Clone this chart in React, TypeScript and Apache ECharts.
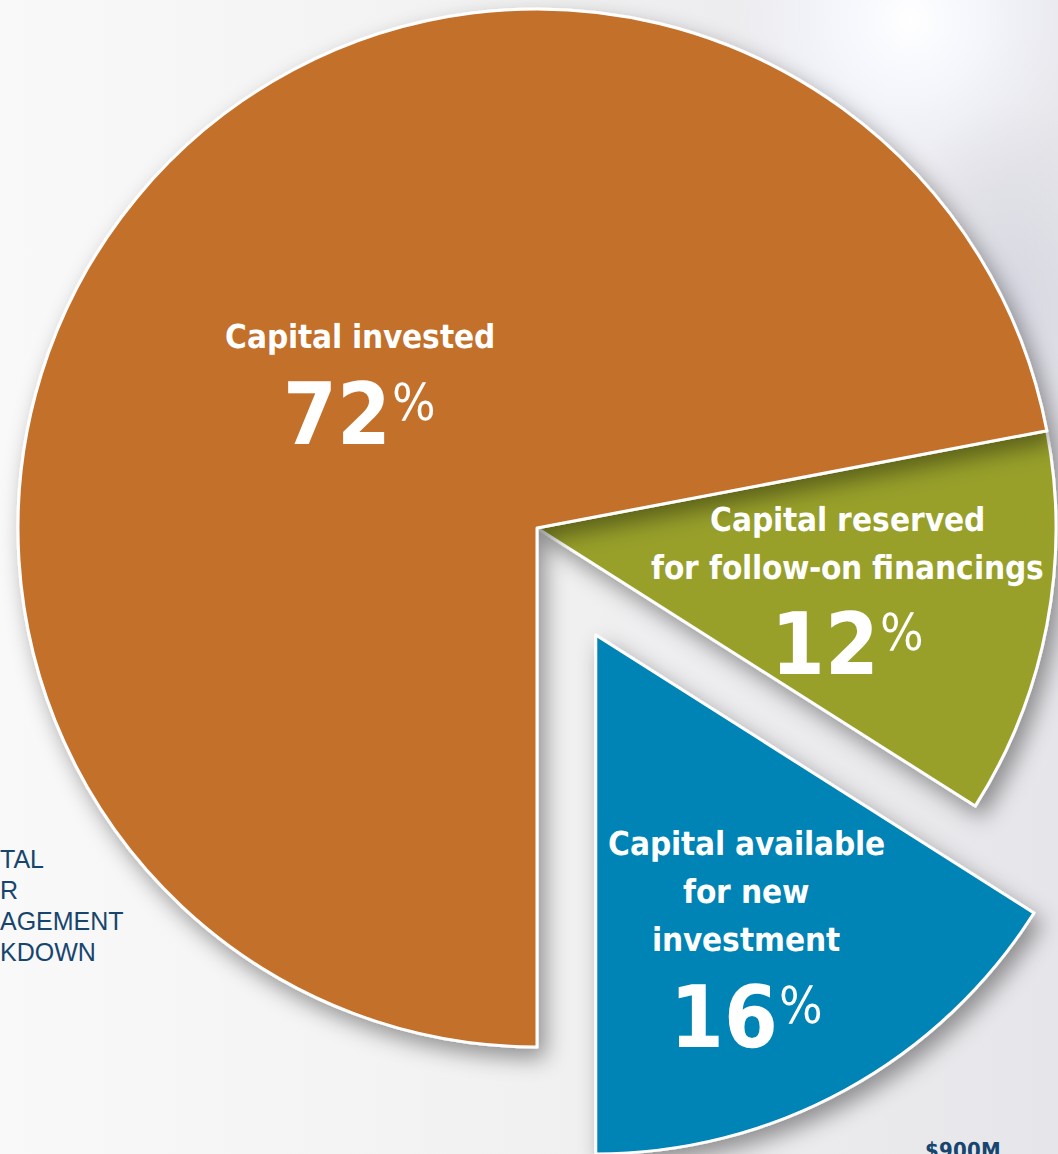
import React, { useEffect, useRef } from "react";
import * as echarts from "echarts";

const sliceNames = [
  "Capital reserved\nfor follow-on financings",
  "Capital available\nfor new\ninvestment",
  "Capital invested",
];
const sliceValues = [12, 16, 72];
const sliceColors = ["#98A02C", "#0083B5", "#C36F2A"];
const sideTextLines = ["TAL", "R", "AGEMENT", "KDOWN"];
const cornerText = "$900M";

const FONT_CSS = `
@font-face { font-family: 'NarrowX'; font-weight: 700; src: local('Noto Sans ExtraCondensed Bold'), local('NotoSans-ExtraCondensedBold'), local('Noto Sans Condensed Bold'), local('NotoSans-CondensedBold'), local('Liberation Sans Narrow Bold'), local('LiberationSansNarrow-Bold'), local('DejaVu Sans Condensed Bold'), local('DejaVuSansCondensed-Bold'); }
@font-face { font-family: 'NarrowX'; font-weight: 400; src: local('Noto Sans ExtraCondensed'), local('NotoSans-ExtraCondensed'), local('Noto Sans Condensed'), local('NotoSans-Condensed'), local('Liberation Sans Narrow'), local('LiberationSansNarrow-Regular'), local('DejaVu Sans Condensed'), local('DejaVuSansCondensed'); }
`;
const LABEL_FONT = "NarrowX, Roboto, sans-serif";

function fitSize(text: string, weight: string, target: number, cap: number) {
  const c = document.createElement("canvas").getContext("2d");
  if (!c) return cap;
  c.font = `${weight} 100px ${LABEL_FONT}`;
  const w = c.measureText(text).width || 1;
  return Math.min(cap, (100 * target) / w);
}

export default function App() {
  const ref = useRef<HTMLDivElement>(null);
  useEffect(() => {
    const styleEl = document.createElement("style");
    styleEl.textContent = FONT_CSS;
    document.head.appendChild(styleEl);
    let chart: any = null;
    let disposed = false;
    const labelShift = [
      [53, 19],
      [24, 80],
      [25, 29],
    ];
    const draw = () => {
      if (disposed || !ref.current) return;
      const tSize = fitSize("for follow-on financings", "bold", 395, 40);
      const nSize = fitSize("72", "bold", 108, 104);
      const pSize = fitSize("%", "normal", 44, 56);
      chart = echarts.init(ref.current, null, { renderer: "svg" });
      const option: any = {
        animation: false,
        backgroundColor: new echarts.graphic.LinearGradient(0, 0, 1, 0, [
          { offset: 0, color: "#f9f9f9" },
          { offset: 0.5, color: "#f1f1f2" },
          { offset: 1, color: "#e6e6ea" },
        ]),
        graphic: [
          {
            type: "rect",
            shape: { x: 720, y: -170, width: 380, height: 380 },
            style: {
              fill: new echarts.graphic.RadialGradient(0.5, 0.5, 0.5, [
                { offset: 0, color: "rgba(255,255,255,1)" },
                { offset: 0.4, color: "rgba(246,248,255,0.85)" },
                { offset: 1, color: "rgba(240,240,248,0)" },
              ]),
            },
            z: 0,
          },
          {
            type: "rect",
            shape: { x: 880, y: 100, width: 260, height: 420 },
            style: {
              fill: new echarts.graphic.RadialGradient(0.5, 0.5, 0.5, [
                { offset: 0, color: "rgba(212,212,224,0.85)" },
                { offset: 1, color: "rgba(212,212,224,0)" },
              ]),
            },
            z: 0,
          },
          ...sideTextLines.map((t, i) => ({
            type: "text",
            left: 0,
            top: 846 + i * 31,
            z: 0,
            style: {
              text: t,
              fill: "#17456e",
              font: "400 25px 'Liberation Sans', Arial, sans-serif",
            },
          })),
          {
            type: "text",
            left: 925,
            top: 1139,
            z: 0,
            style: {
              text: cornerText,
              fill: "#17456e",
              font: `700 22px ${LABEL_FONT}`,
            },
          },
        ],
        series: [
          {
            type: "pie",
            center: [537, 528],
            radius: [0, 519],
            startAngle: 10.8,
            clockwise: true,
            selectedMode: "multiple",
            selectedOffset: 122,
            avoidLabelOverlap: false,
            itemStyle: {
              borderColor: "#ffffff",
              borderWidth: 3,
              shadowBlur: 22,
              shadowColor: "rgba(0,0,0,0.4)",
              shadowOffsetX: 7,
              shadowOffsetY: 10,
            },
            emphasis: { disabled: true },
            label: {
              show: true,
              position: "inside",
              formatter: (p: any) =>
                String(p.name)
                  .split("\n")
                  .map((l: string) => `{t|${l}}`)
                  .join("\n") + `\n{n|${p.value}}{p|%}`,
              rich: {
                t: {
                  fontFamily: LABEL_FONT,
                  fontWeight: "bold",
                  fontSize: tSize,
                  lineHeight: 48,
                  color: "#ffffff",
                },
                n: {
                  fontFamily: LABEL_FONT,
                  fontWeight: "bold",
                  fontSize: nSize,
                  lineHeight: 106,
                  color: "#ffffff",
                },
                p: {
                  fontFamily: LABEL_FONT,
                  fontWeight: "normal",
                  fontSize: pSize,
                  lineHeight: 106,
                  verticalAlign: "top",
                  padding: [16, 0, 0, 1],
                  color: "#ffffff",
                },
              },
            },
            labelLine: { show: false },
            labelLayout: (params: any) => ({
              dx: labelShift[params.dataIndex][0],
              dy: labelShift[params.dataIndex][1],
            }),
            data: sliceNames.map((name, i) => ({
              name,
              value: sliceValues[i],
              selected: i === 1,
              itemStyle: { color: sliceColors[i] },
            })),
          },
        ],
      };
      chart.setOption(option);
    };
    const fonts: any = (document as any).fonts;
    if (fonts && fonts.load) {
      Promise.all([
        fonts.load("700 39px NarrowX"),
        fonts.load("400 56px NarrowX"),
      ])
        .catch(() => null)
        .then(() => draw());
    } else {
      draw();
    }
    return () => {
      disposed = true;
      if (chart) chart.dispose();
      styleEl.remove();
    };
  }, []);
  return (
    <div
      ref={ref}
      style={{ position: "absolute", left: 0, top: 0, width: 1058, height: 1154 }}
    />
  );
}
